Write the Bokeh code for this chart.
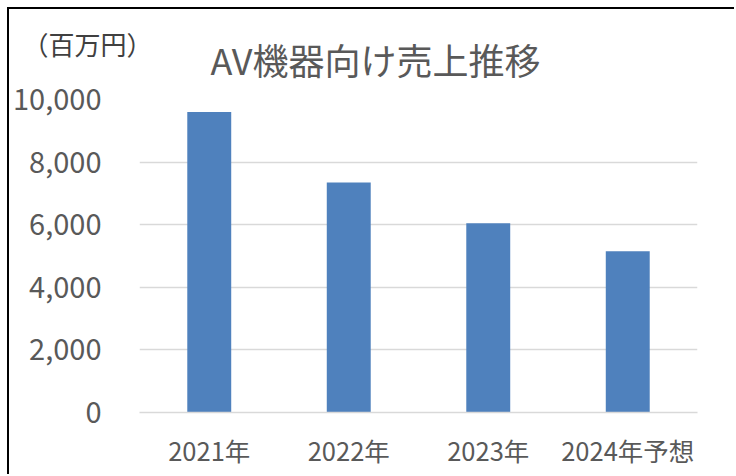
from bokeh.plotting import figure
from bokeh.models import Label, NumeralTickFormatter, ColumnDataSource
from bokeh.embed import file_html
from bokeh.resources import INLINE

categories = ["2021年", "2022年", "2023年", "2024年予想"]
sales = [9600, 7350, 6050, 5150]
y_ticks = [0, 2000, 4000, 6000, 8000, 10000]
title_text = "AV機器向け売上推移"
unit_text = "（百万円）"

FONT = "Noto Sans CJK JP"
TEXT = "#595959"

src = ColumnDataSource(dict(cat=categories, val=sales))

p = figure(x_range=categories, y_range=(0, 10000), width=727, height=467,
           output_backend="svg", toolbar_location=None,
           min_border_left=129, min_border_right=39, min_border_top=90, min_border_bottom=64)
p.x_range.range_padding = 0
p.vbar(x="cat", top="val", width=0.315, source=src, color="#4F81BD", line_color=None)

p.outline_line_color = None
p.xgrid.grid_line_color = None
p.ygrid.grid_line_color = "#D9D9D9"
p.ygrid.grid_line_width = 1.5
p.yaxis.ticker = y_ticks
p.yaxis.formatter = NumeralTickFormatter(format="0,0")
p.yaxis.axis_line_color = None
p.yaxis.major_tick_line_color = None
p.yaxis.minor_tick_line_color = None
p.yaxis.major_tick_out = 0
p.yaxis.major_label_standoff = 38
p.yaxis.major_label_text_font = FONT
p.yaxis.major_label_text_font_size = "29px"
p.yaxis.major_label_text_color = TEXT

p.xaxis.axis_line_color = "#D9D9D9"
p.xaxis.axis_line_width = 1.5
p.xaxis.major_tick_line_color = None
p.xaxis.major_tick_out = 0
p.xaxis.major_label_standoff = 18
p.xaxis.major_label_text_font = FONT
p.xaxis.major_label_text_font_size = "25.5px"
p.xaxis.major_label_text_color = TEXT

# unit and title, placed in panels above the frame (offsets from each panel's bottom-left)
p.add_layout(Label(x=-52, y=56, x_units="screen", y_units="screen", text=unit_text,
                   text_font=FONT, text_font_size="26px", text_color="#404040",
                   text_align="center", text_baseline="middle"), "above")
p.add_layout(Label(x=236, y=4, x_units="screen", y_units="screen", text=title_text,
                   text_font=FONT, text_font_size="36px", text_color=TEXT,
                   text_align="center", text_baseline="middle"), "above")

p.margin = (7, 0, 0, 7)
p.styles = {"border-left": "2px solid black", "border-top": "2px solid black"}

open("out.html", "w").write(file_html(p, INLINE))
